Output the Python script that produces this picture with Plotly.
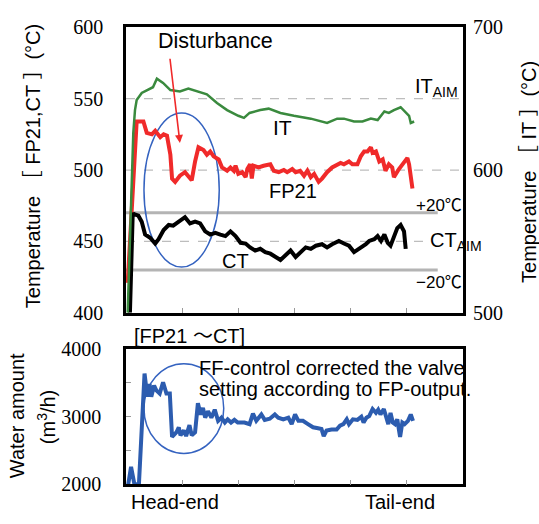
import plotly.graph_objects as go

# ---------------- data ----------------
it_x = [0.03, 0.13, 0.16, 0.19, 0.28, 0.48, 0.55, 0.66, 0.79, 0.96, 1.11, 1.26, 1.44, 1.62, 1.80, 2.00, 2.10,
        2.20, 2.39, 2.54, 2.75, 2.99, 3.29, 3.58, 3.76, 3.88, 4.06, 4.21, 4.36, 4.48, 4.60, 4.68, 4.77, 4.89,
        4.98, 5.04, 5.07, 5.13]
it_v = [500, 626, 642, 649, 654, 658, 664, 661, 656, 655, 657, 655, 653, 647, 642, 638, 636.5,
        640, 642, 643, 640, 638, 636, 633, 636, 636, 634, 634, 636, 635, 641, 640, 642, 644,
        640, 638, 633, 634]

fp_x = [0.03, 0.19, 0.22, 0.31, 0.37, 0.46, 0.52, 0.61, 0.67, 0.73, 0.79, 0.82, 0.875, 0.96, 1.05, 1.11, 1.17,
        1.23, 1.29, 1.38, 1.44, 1.50, 1.56, 1.65, 1.71, 1.80, 1.86, 1.92, 1.95, 2.00, 2.07, 2.13, 2.16, 2.21,
        2.24, 2.27, 2.36, 2.45, 2.57, 2.63, 2.72, 2.81, 2.87, 2.96, 3.02, 3.10, 3.17, 3.23, 3.29, 3.35, 3.43,
        3.49, 3.58, 3.67, 3.76, 3.82, 3.88, 3.97, 4.03, 4.12, 4.18, 4.24, 4.30, 4.36, 4.39, 4.45, 4.51, 4.57,
        4.62, 4.68, 4.74, 4.77, 4.86, 4.95, 5.01, 5.04, 5.10]
fp_v = [421, 534, 534, 534, 526, 525, 527.5, 523, 525, 524, 510.7, 494, 491.7, 496, 498.5, 496, 492.8,
        506, 516, 514, 510.7, 513, 509.6, 507.4, 501.8, 499.5, 501.8, 499.5, 503, 497.3, 498.5, 495, 500.7, 504,
        494, 503, 501.8, 503, 504, 499.5, 498.5, 500, 498.5, 500.7, 498.5, 499.5, 496, 499.5, 495, 497.3, 491.7,
        494, 498.5, 501.8, 504, 505, 504, 506, 504, 504, 509.6, 513, 513, 516, 512, 513, 506, 507.4,
        499.5, 504, 501.8, 495, 500.7, 506, 508.5, 504, 487]

ct_x = [0.07, 0.12, 0.13, 0.22, 0.28, 0.34, 0.43, 0.52, 0.58, 0.67, 0.76, 0.84, 0.93, 1.05, 1.14, 1.23, 1.32,
        1.41, 1.50, 1.59, 1.68, 1.77, 1.86, 1.95, 2.04, 2.13, 2.21, 2.30, 2.39, 2.48, 2.57, 2.66, 2.75, 2.84,
        2.93, 3.02, 3.11, 3.20, 3.29, 3.38, 3.49, 3.58, 3.67, 3.79, 3.88, 3.97, 4.06, 4.15, 4.27, 4.33, 4.42,
        4.48, 4.54, 4.60, 4.66, 4.71, 4.77, 4.83, 4.89, 4.95, 4.98]
ct_v = [400, 470, 469.3, 468, 463.8, 454.8, 452.6, 448.5, 451.5, 458, 461.5, 461, 463.8, 467, 462.6, 463.8, 462.6,
        457, 454.8, 456, 454.8, 453.7, 457, 453.7, 449, 448.5, 445.8, 443.6, 444.8, 442.5, 441.4, 439.1, 437, 440.3,
        443.6, 439.1, 442.5, 445.8, 444.8, 447, 448, 445.8, 448, 450.3, 448.5, 447, 442.5, 444.8, 448, 450.3, 451.5,
        453.7, 450.3, 454.8, 449, 447, 453.7, 459.3, 461.5, 457, 444.8]

w_x = [0.04, 0.09, 0.15, 0.23, 0.33, 0.38, 0.42, 0.45, 0.50, 0.54, 0.60, 0.66, 0.72, 0.78, 0.82, 0.90, 0.94,
       0.97, 1.03, 1.07, 1.13, 1.17, 1.23, 1.28, 1.33, 1.37, 1.41, 1.46, 1.52, 1.58, 1.64, 1.70, 1.76, 1.81,
       1.87, 1.93, 1.99, 2.11, 2.20, 2.26, 2.32, 2.41, 2.47, 2.53, 2.56, 2.65, 2.71, 2.80, 2.89, 2.95, 3.01,
       3.07, 3.15, 3.24, 3.33, 3.42, 3.48, 3.52, 3.57, 3.66, 3.75, 3.81, 3.87, 3.93, 3.97, 4.04, 4.12, 4.19,
       4.23, 4.28, 4.33, 4.39, 4.45, 4.49, 4.53, 4.59, 4.64, 4.67, 4.71, 4.75, 4.79, 4.83, 4.88, 4.92, 4.96,
       5.02, 5.07, 5.11]
w_v = [2000, 2257, 2000, 2000, 3639, 3296, 3486, 3296, 3461, 3390, 3343, 3510, 3343, 3343, 2700, 2771, 2843,
       2724, 2796, 2714, 2876, 2724, 2771, 3200, 3033, 3129, 2986, 3081, 2986, 3104, 2939, 2986, 2914, 2961,
       2914, 2953, 2914, 2914, 2890, 3047, 2939, 3033, 2953, 2961, 2971, 3033, 2986, 2961, 2986, 2890, 3033,
       2939, 2939, 2890, 2843, 2829, 2819, 2714, 2796, 2810, 2810, 2867, 2890, 2961, 2890, 2961, 2953, 3000,
       2914, 2986, 3010, 3114, 3057, 3104, 3033, 3114, 2986, 2890, 3057, 2914, 2890, 2961, 2700, 2914, 2890,
       2939, 3033, 2939]

temp_ticks_left = [400, 450, 500, 550, 600]
temp_ticks_right = [500, 600, 700]
water_ticks = [2000, 3000, 4000]
ct_aim = 450
fp_aim = 500
it_aim_left = 550
ct_band = [470, 430]

# ---------------- figure ----------------
W, H = 539, 524
def px(x):
    return x / W
def py(y):
    return 1 - y / H

SANS = "Liberation Sans, Arial, Noto Sans CJK JP"
SERIF = "Liberation Serif"

fig = go.Figure()
fig.add_trace(go.Scatter(x=it_x, y=it_v, mode="lines", line=dict(color="#3a8a3e", width=2.5),
                         xaxis="x", yaxis="y2", showlegend=False))
fig.add_trace(go.Scatter(x=fp_x, y=fp_v, mode="lines", line=dict(color="#f02a2a", width=4),
                         xaxis="x", yaxis="y", showlegend=False))
fig.add_trace(go.Scatter(x=ct_x, y=ct_v, mode="lines", line=dict(color="#000000", width=4),
                         xaxis="x", yaxis="y", showlegend=False))
fig.add_trace(go.Scatter(x=w_x, y=w_v, mode="lines", line=dict(color="#2c5caf", width=4),
                         xaxis="x2", yaxis="y3", showlegend=False))

xdom = [px(126), px(463)]
common_x = dict(range=[0, 6], showline=True, mirror=True, linecolor="black", linewidth=2.5,
                ticks="inside", tickvals=[1, 2, 3, 4, 5], ticklen=5, tickcolor="#9a9a9a", tickwidth=1,
                showticklabels=False, showgrid=False, zeroline=False, fixedrange=True)

shapes = []
for yv, x1 in [(it_aim_left, 6), (fp_aim, 6), (ct_aim, 5.37)]:
    shapes.append(dict(type="line", xref="x", yref="y", x0=0, x1=x1, y0=yv, y1=yv,
                       line=dict(color="#bdbdbd", width=1.3, dash="dash"), layer="below"))
for yv in ct_band:
    shapes.append(dict(type="line", xref="x", yref="y", x0=0, x1=5.55, y0=yv, y1=yv,
                       line=dict(color="#b4b4b4", width=3), layer="below"))
shapes.append(dict(type="circle", xref="x", yref="y", x0=0.32, x1=1.66, y0=432, y1=540,
                   line=dict(color="#3563c0", width=1.5), layer="below"))
shapes.append(dict(type="circle", xref="x2", yref="y3", x0=0.32, x1=1.74, y0=2457, y1=3786,
                   line=dict(color="#3563c0", width=1.5), layer="below"))

def ann(text, x, y, size=20, xanchor="center", yanchor="middle", angle=0, family=SANS):
    return dict(text=text, x=px(x), y=py(y), xref="paper", yref="paper", showarrow=False,
                xanchor=xanchor, yanchor=yanchor, textangle=angle,
                font=dict(family=family, size=size, color="black"))

annotations = [
    ann("Disturbance", 215, 31, size=21.5),
    ann("IT", 282, 122, size=21),
    ann("FP21", 293, 188),
    ann("CT", 235, 261),
    ann("IT<sub>AIM</sub>", 413, 80, xanchor="left"),
    ann("+20℃", 464, 203, size=17, xanchor="right"),
    ann("CT<sub>AIM</sub>", 428, 241, xanchor="left"),
    ann("−20℃", 464, 283, size=17, xanchor="right"),
    ann("Temperature ［ FP21,CT ］(°C)", 33, 162, angle=-90),
    ann("Temperature ［ IT ］(°C)", 529, 168, angle=-90),
    ann("[FP21 ～CT]", 132, 339, xanchor="left"),
    ann("FF-control corrected the valve", 197, 373, xanchor="left"),
    ann("setting according to FP-output.", 197, 395, xanchor="left"),
    ann("Water amount", 17, 423, angle=-90),
    ann("(m<sup>3</sup>/h)", 46, 424, angle=-90),
    ann("Head-end", 175, 513),
    ann("Tail-end", 400, 513),
    dict(x=0.96, y=519, ax=0.78, ay=579, xref="x", yref="y", axref="x", ayref="y",
         showarrow=True, arrowhead=2, arrowsize=1, arrowwidth=1.6, arrowcolor="#f02a2a", text=""),
]

fig.update_layout(
    width=W, height=H, margin=dict(l=0, r=0, t=0, b=0),
    paper_bgcolor="white", plot_bgcolor="white",
    font=dict(family=SANS, size=20, color="black"),
    showlegend=False,
    xaxis=dict(domain=xdom, anchor="y", **common_x),
    yaxis=dict(domain=[py(315), py(17)], range=[400, 600], tickvals=temp_ticks_left,
               showline=True, mirror=True, linecolor="black", linewidth=2.5, ticks="",
               showgrid=False, zeroline=False, ticklabelstandoff=16,
               tickfont=dict(family=SERIF, size=20, color="black"), fixedrange=True),
    yaxis2=dict(overlaying="y", side="right", anchor="x", range=[500, 700], tickvals=temp_ticks_right,
                showline=False, ticks="", showgrid=False, zeroline=False, ticklabelstandoff=9,
                tickfont=dict(family=SERIF, size=20, color="black"), fixedrange=True),
    xaxis2=dict(domain=xdom, anchor="y3", **common_x),
    yaxis3=dict(domain=[py(494), py(353)], anchor="x2", range=[2000, 4000], tickvals=water_ticks,
                showline=True, mirror=True, linecolor="black", linewidth=2.5,
                ticks="inside", ticklen=5, tickcolor="#9a9a9a", showgrid=False, zeroline=False,
                minor=dict(ticks="inside", dtick=500, ticklen=5, tickcolor="#9a9a9a"),
                ticklabelstandoff=18, tickfont=dict(family=SERIF, size=20, color="black"), fixedrange=True),
    shapes=shapes,
    annotations=annotations,
)

fig.write_html("out.html")
